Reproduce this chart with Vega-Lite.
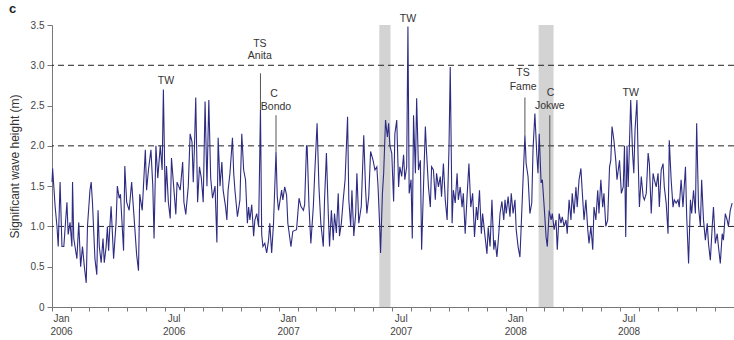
{
  "$schema": "https://vega.github.io/schema/vega-lite/v6.json",
  "width": 682,
  "height": 282,
  "autosize": {"type": "none"},
  "padding": {"left": 52, "top": 25, "right": 0, "bottom": 33},
  "background": "white",
  "config": {"view": {"stroke": null}, "font": "Liberation Sans"},
  "datasets": {
    "waves": [
      {"d":"2006-01-01","h":1.55},{"d":"2006-01-02","h":1.72},{"d":"2006-01-06","h":1.25},{"d":"2006-01-09","h":1.0},{"d":"2006-01-11","h":0.75},{"d":"2006-01-14","h":1.55},{"d":"2006-01-17","h":0.75},{"d":"2006-01-20","h":0.75},{"d":"2006-01-25","h":1.3},{"d":"2006-01-27","h":0.9},{"d":"2006-01-30","h":1.05},
      {"d":"2006-02-02","h":0.75},{"d":"2006-02-03","h":1.55},{"d":"2006-02-05","h":0.85},{"d":"2006-02-10","h":0.6},{"d":"2006-02-13","h":1.05},{"d":"2006-02-16","h":0.5},{"d":"2006-02-19","h":0.75},{"d":"2006-02-22","h":0.5},{"d":"2006-02-25","h":0.3},{"d":"2006-02-27","h":1.0},
      {"d":"2006-03-03","h":1.45},{"d":"2006-03-05","h":1.55},{"d":"2006-03-07","h":1.3},{"d":"2006-03-11","h":0.6},{"d":"2006-03-14","h":0.4},{"d":"2006-03-16","h":1.2},{"d":"2006-03-18","h":0.75},{"d":"2006-03-21","h":0.55},{"d":"2006-03-24","h":0.85},{"d":"2006-03-26","h":0.55},{"d":"2006-03-29","h":0.75},{"d":"2006-03-31","h":1.0},
      {"d":"2006-04-02","h":0.7},{"d":"2006-04-04","h":1.0},{"d":"2006-04-06","h":1.25},{"d":"2006-04-10","h":0.6},{"d":"2006-04-14","h":1.05},{"d":"2006-04-16","h":1.5},{"d":"2006-04-19","h":1.35},{"d":"2006-04-21","h":1.4},{"d":"2006-04-26","h":0.7},{"d":"2006-04-28","h":1.75},
      {"d":"2006-05-01","h":1.3},{"d":"2006-05-05","h":1.2},{"d":"2006-05-09","h":1.55},{"d":"2006-05-13","h":1.1},{"d":"2006-05-17","h":0.65},{"d":"2006-05-20","h":0.45},{"d":"2006-05-22","h":1.4},{"d":"2006-05-26","h":1.2},{"d":"2006-05-28","h":1.5},{"d":"2006-05-31","h":1.95},
      {"d":"2006-06-02","h":1.45},{"d":"2006-06-05","h":1.7},{"d":"2006-06-09","h":1.95},{"d":"2006-06-12","h":1.5},{"d":"2006-06-14","h":0.85},{"d":"2006-06-17","h":2.0},{"d":"2006-06-20","h":1.6},{"d":"2006-06-24","h":2.0},{"d":"2006-06-27","h":1.7},{"d":"2006-06-29","h":2.7},
      {"d":"2006-07-02","h":1.3},{"d":"2006-07-04","h":1.75},{"d":"2006-07-07","h":1.3},{"d":"2006-07-10","h":1.1},{"d":"2006-07-12","h":1.85},{"d":"2006-07-15","h":1.55},{"d":"2006-07-19","h":1.15},{"d":"2006-07-21","h":1.55},{"d":"2006-07-26","h":1.45},{"d":"2006-07-30","h":1.8},
      {"d":"2006-08-01","h":1.3},{"d":"2006-08-04","h":1.15},{"d":"2006-08-08","h":1.5},{"d":"2006-08-11","h":2.15},{"d":"2006-08-14","h":2.05},{"d":"2006-08-16","h":1.55},{"d":"2006-08-18","h":2.0},{"d":"2006-08-20","h":2.6},{"d":"2006-08-23","h":1.3},{"d":"2006-08-26","h":1.74},{"d":"2006-08-29","h":1.6},
      {"d":"2006-09-01","h":1.3},{"d":"2006-09-04","h":2.55},{"d":"2006-09-07","h":1.5},{"d":"2006-09-10","h":2.57},{"d":"2006-09-13","h":1.6},{"d":"2006-09-16","h":1.35},{"d":"2006-09-20","h":1.5},{"d":"2006-09-23","h":0.8},{"d":"2006-09-25","h":2.1},{"d":"2006-09-28","h":1.5},
      {"d":"2006-10-01","h":1.8},{"d":"2006-10-03","h":1.45},{"d":"2006-10-07","h":1.24},{"d":"2006-10-09","h":1.08},{"d":"2006-10-11","h":1.45},{"d":"2006-10-14","h":1.66},{"d":"2006-10-18","h":2.1},{"d":"2006-10-20","h":1.66},{"d":"2006-10-22","h":1.45},{"d":"2006-10-26","h":1.12},{"d":"2006-10-30","h":1.33},
      {"d":"2006-11-02","h":2.15},{"d":"2006-11-05","h":1.7},{"d":"2006-11-08","h":1.58},{"d":"2006-11-11","h":1.04},{"d":"2006-11-13","h":1.24},{"d":"2006-11-15","h":1.08},{"d":"2006-11-18","h":1.27},{"d":"2006-11-21","h":0.88},{"d":"2006-11-23","h":1.08},{"d":"2006-11-26","h":1.16},{"d":"2006-11-29","h":1.0},{"d":"2006-11-30","h":1.45},
      {"d":"2006-12-02","h":2.45},{"d":"2006-12-04","h":0.9},{"d":"2006-12-06","h":0.75},{"d":"2006-12-09","h":0.79},{"d":"2006-12-12","h":0.67},{"d":"2006-12-15","h":0.83},{"d":"2006-12-17","h":1.04},{"d":"2006-12-20","h":0.67},{"d":"2006-12-23","h":1.04},{"d":"2006-12-27","h":1.93},{"d":"2006-12-29","h":1.37},{"d":"2006-12-31","h":1.2},
      {"d":"2007-01-05","h":1.45},{"d":"2007-01-07","h":1.33},{"d":"2007-01-10","h":1.49},{"d":"2007-01-13","h":1.39},{"d":"2007-01-15","h":1.04},{"d":"2007-01-20","h":0.75},{"d":"2007-01-23","h":0.94},{"d":"2007-01-29","h":0.96},
      {"d":"2007-02-02","h":1.35},{"d":"2007-02-05","h":1.25},{"d":"2007-02-09","h":1.2},{"d":"2007-02-11","h":1.27},{"d":"2007-02-14","h":2.0},{"d":"2007-02-15","h":2.0},{"d":"2007-02-18","h":1.25},{"d":"2007-02-21","h":0.79},{"d":"2007-02-25","h":1.25},{"d":"2007-02-27","h":1.62},
      {"d":"2007-03-03","h":2.28},{"d":"2007-03-06","h":1.49},{"d":"2007-03-09","h":1.04},{"d":"2007-03-13","h":0.75},{"d":"2007-03-15","h":1.33},{"d":"2007-03-18","h":1.91},{"d":"2007-03-21","h":1.16},{"d":"2007-03-23","h":0.75},{"d":"2007-03-26","h":1.2},{"d":"2007-03-29","h":0.83},{"d":"2007-03-31","h":1.16},
      {"d":"2007-04-03","h":0.92},{"d":"2007-04-06","h":1.41},{"d":"2007-04-08","h":0.88},{"d":"2007-04-11","h":1.04},{"d":"2007-04-14","h":1.33},{"d":"2007-04-17","h":1.58},{"d":"2007-04-21","h":2.36},{"d":"2007-04-23","h":1.33},{"d":"2007-04-26","h":1.0},{"d":"2007-04-28","h":1.45},
      {"d":"2007-05-01","h":0.88},{"d":"2007-05-04","h":1.16},{"d":"2007-05-06","h":1.66},{"d":"2007-05-09","h":1.04},{"d":"2007-05-13","h":1.25},{"d":"2007-05-17","h":2.13},{"d":"2007-05-20","h":1.45},{"d":"2007-05-22","h":1.16},{"d":"2007-05-25","h":1.37},{"d":"2007-05-28","h":1.93},
      {"d":"2007-06-01","h":1.82},{"d":"2007-06-04","h":1.7},{"d":"2007-06-07","h":1.74},{"d":"2007-06-09","h":1.49},{"d":"2007-06-12","h":0.92},{"d":"2007-06-13","h":0.67},{"d":"2007-06-16","h":1.41},{"d":"2007-06-18","h":1.66},{"d":"2007-06-21","h":2.32},{"d":"2007-06-24","h":2.11},{"d":"2007-06-26","h":2.28},{"d":"2007-06-28","h":2.0},
      {"d":"2007-07-01","h":1.91},{"d":"2007-07-04","h":1.31},{"d":"2007-07-06","h":2.15},{"d":"2007-07-09","h":2.32},{"d":"2007-07-12","h":1.49},{"d":"2007-07-14","h":1.74},{"d":"2007-07-17","h":1.62},{"d":"2007-07-20","h":1.89},{"d":"2007-07-22","h":1.58},{"d":"2007-07-25","h":1.74},{"d":"2007-07-27","h":3.48},{"d":"2007-07-29","h":1.41},
      {"d":"2007-08-01","h":1.58},{"d":"2007-08-03","h":0.85},{"d":"2007-08-05","h":2.38},{"d":"2007-08-08","h":1.66},{"d":"2007-08-10","h":2.59},{"d":"2007-08-13","h":1.7},{"d":"2007-08-16","h":1.82},{"d":"2007-08-18","h":0.71},{"d":"2007-08-21","h":1.49},{"d":"2007-08-24","h":2.24},{"d":"2007-08-26","h":1.91},{"d":"2007-08-29","h":1.49},
      {"d":"2007-09-01","h":1.24},{"d":"2007-09-03","h":1.74},{"d":"2007-09-06","h":1.7},{"d":"2007-09-09","h":1.33},{"d":"2007-09-11","h":1.66},{"d":"2007-09-14","h":1.49},{"d":"2007-09-17","h":1.62},{"d":"2007-09-19","h":1.37},{"d":"2007-09-22","h":1.78},{"d":"2007-09-25","h":1.33},{"d":"2007-09-28","h":1.08},
      {"d":"2007-10-01","h":1.99},{"d":"2007-10-03","h":2.98},{"d":"2007-10-06","h":1.04},{"d":"2007-10-08","h":1.45},{"d":"2007-10-11","h":1.29},{"d":"2007-10-14","h":1.66},{"d":"2007-10-16","h":1.33},{"d":"2007-10-19","h":1.49},{"d":"2007-10-22","h":1.24},{"d":"2007-10-24","h":1.41},{"d":"2007-10-27","h":0.91},{"d":"2007-10-30","h":1.37},
      {"d":"2007-11-02","h":1.78},{"d":"2007-11-05","h":1.24},{"d":"2007-11-08","h":1.41},{"d":"2007-11-11","h":0.87},{"d":"2007-11-14","h":1.24},{"d":"2007-11-16","h":1.08},{"d":"2007-11-19","h":1.45},{"d":"2007-11-22","h":0.91},{"d":"2007-11-24","h":1.16},{"d":"2007-11-28","h":0.87},
      {"d":"2007-12-01","h":0.66},{"d":"2007-12-03","h":0.99},{"d":"2007-12-06","h":0.75},{"d":"2007-12-09","h":1.33},{"d":"2007-12-12","h":0.71},{"d":"2007-12-14","h":0.83},{"d":"2007-12-17","h":0.62},{"d":"2007-12-20","h":0.91},{"d":"2007-12-22","h":1.16},{"d":"2007-12-25","h":1.31},{"d":"2007-12-28","h":1.08},{"d":"2007-12-30","h":1.33},
      {"d":"2008-01-01","h":1.16},{"d":"2008-01-04","h":1.37},{"d":"2008-01-07","h":1.12},{"d":"2008-01-09","h":1.41},{"d":"2008-01-12","h":1.16},{"d":"2008-01-15","h":1.33},{"d":"2008-01-17","h":0.96},{"d":"2008-01-20","h":0.75},{"d":"2008-01-23","h":0.62},{"d":"2008-01-25","h":1.0},{"d":"2008-01-28","h":1.58},{"d":"2008-01-31","h":2.13},
      {"d":"2008-02-02","h":1.78},{"d":"2008-02-05","h":1.62},{"d":"2008-02-08","h":1.16},{"d":"2008-02-11","h":1.29},{"d":"2008-02-13","h":1.95},{"d":"2008-02-16","h":2.4},{"d":"2008-02-19","h":1.91},{"d":"2008-02-21","h":1.66},{"d":"2008-02-23","h":2.15},{"d":"2008-02-26","h":1.54},{"d":"2008-02-28","h":1.58},
      {"d":"2008-03-02","h":1.24},{"d":"2008-03-05","h":0.87},{"d":"2008-03-07","h":0.75},{"d":"2008-03-10","h":1.2},{"d":"2008-03-13","h":1.08},{"d":"2008-03-15","h":1.16},{"d":"2008-03-18","h":0.96},{"d":"2008-03-21","h":1.08},{"d":"2008-03-23","h":0.71},{"d":"2008-03-26","h":1.16},{"d":"2008-03-29","h":1.04},{"d":"2008-03-31","h":1.12},
      {"d":"2008-04-03","h":1.0},{"d":"2008-04-06","h":1.08},{"d":"2008-04-08","h":0.91},{"d":"2008-04-11","h":1.33},{"d":"2008-04-14","h":1.08},{"d":"2008-04-16","h":1.41},{"d":"2008-04-19","h":1.16},{"d":"2008-04-22","h":1.49},{"d":"2008-04-24","h":1.24},{"d":"2008-04-27","h":1.58},{"d":"2008-04-30","h":1.72},
      {"d":"2008-05-02","h":1.45},{"d":"2008-05-05","h":1.08},{"d":"2008-05-08","h":1.33},{"d":"2008-05-11","h":0.96},{"d":"2008-05-13","h":0.79},{"d":"2008-05-16","h":1.0},{"d":"2008-05-19","h":0.71},{"d":"2008-05-21","h":1.24},{"d":"2008-05-24","h":1.08},{"d":"2008-05-27","h":1.45},{"d":"2008-05-29","h":1.16},
      {"d":"2008-06-01","h":1.58},{"d":"2008-06-04","h":1.24},{"d":"2008-06-06","h":1.41},{"d":"2008-06-09","h":1.0},{"d":"2008-06-12","h":1.08},{"d":"2008-06-15","h":1.74},{"d":"2008-06-17","h":1.82},{"d":"2008-06-19","h":2.24},{"d":"2008-06-22","h":2.07},{"d":"2008-06-25","h":1.82},{"d":"2008-06-27","h":1.58},
      {"d":"2008-07-01","h":1.82},{"d":"2008-07-04","h":1.41},{"d":"2008-07-07","h":1.49},{"d":"2008-07-09","h":2.0},{"d":"2008-07-11","h":0.87},{"d":"2008-07-13","h":2.0},{"d":"2008-07-15","h":1.49},{"d":"2008-07-17","h":2.03},{"d":"2008-07-19","h":2.57},{"d":"2008-07-22","h":1.91},{"d":"2008-07-24","h":1.66},{"d":"2008-07-26","h":2.2},{"d":"2008-07-29","h":2.57},{"d":"2008-07-31","h":1.82},
      {"d":"2008-08-02","h":1.24},{"d":"2008-08-05","h":1.62},{"d":"2008-08-08","h":1.37},{"d":"2008-08-10","h":1.33},{"d":"2008-08-13","h":1.41},{"d":"2008-08-16","h":1.91},{"d":"2008-08-18","h":1.78},{"d":"2008-08-21","h":1.16},{"d":"2008-08-24","h":1.66},{"d":"2008-08-26","h":1.58},{"d":"2008-08-29","h":1.49},
      {"d":"2008-09-01","h":1.66},{"d":"2008-09-03","h":1.24},{"d":"2008-09-06","h":1.7},{"d":"2008-09-09","h":1.78},{"d":"2008-09-11","h":1.49},{"d":"2008-09-14","h":1.29},{"d":"2008-09-17","h":0.91},{"d":"2008-09-19","h":2.07},{"d":"2008-09-22","h":1.58},{"d":"2008-09-25","h":1.24},{"d":"2008-09-27","h":1.33},{"d":"2008-09-30","h":1.29},
      {"d":"2008-10-03","h":1.33},{"d":"2008-10-05","h":1.24},{"d":"2008-10-08","h":1.58},{"d":"2008-10-11","h":1.24},{"d":"2008-10-15","h":1.74},{"d":"2008-10-17","h":1.12},{"d":"2008-10-20","h":0.54},{"d":"2008-10-23","h":1.33},{"d":"2008-10-25","h":1.16},{"d":"2008-10-28","h":1.45},{"d":"2008-10-31","h":1.16},
      {"d":"2008-11-02","h":2.28},{"d":"2008-11-05","h":1.24},{"d":"2008-11-08","h":1.0},{"d":"2008-11-10","h":1.58},{"d":"2008-11-13","h":1.08},{"d":"2008-11-16","h":0.83},{"d":"2008-11-19","h":1.04},{"d":"2008-11-21","h":0.79},{"d":"2008-11-24","h":0.58},{"d":"2008-11-27","h":1.0},{"d":"2008-11-29","h":1.24},
      {"d":"2008-12-02","h":0.79},{"d":"2008-12-05","h":0.91},{"d":"2008-12-07","h":0.75},{"d":"2008-12-10","h":0.54},{"d":"2008-12-13","h":0.91},{"d":"2008-12-15","h":0.83},{"d":"2008-12-18","h":1.16},{"d":"2008-12-21","h":1.08},{"d":"2008-12-23","h":1.0},{"d":"2008-12-26","h":1.2},{"d":"2008-12-29","h":1.29}
    ],
    "bands": [
      {"s": "2007-06-11", "e": "2007-06-29"},
      {"s": "2008-02-22", "e": "2008-03-17"}
    ],
    "refs": [{"v": 1.0}, {"v": 2.0}, {"v": 3.0}],
    "leaders": [
      {"d": "2006-12-02", "a": 2.9, "b": 2.45},
      {"d": "2006-12-27", "a": 2.38, "b": 1.93},
      {"d": "2008-01-31", "a": 2.6, "b": 2.13},
      {"d": "2008-03-11", "a": 2.38, "b": 1.2}
    ],
    "labels": [
      {"d": "2006-07-03", "v": 2.8, "t": "TW"},
      {"d": "2006-12-01", "v": 3.27, "t": "TS"},
      {"d": "2006-12-01", "v": 3.11, "t": "Anita"},
      {"d": "2006-12-24", "v": 2.64, "t": "C"},
      {"d": "2006-12-27", "v": 2.48, "t": "Bondo"},
      {"d": "2007-07-27", "v": 3.57, "t": "TW"},
      {"d": "2008-01-28", "v": 2.91, "t": "TS"},
      {"d": "2008-01-28", "v": 2.73, "t": "Fame"},
      {"d": "2008-03-12", "v": 2.66, "t": "C"},
      {"d": "2008-03-11", "v": 2.49, "t": "Jokwe"},
      {"d": "2008-07-19", "v": 2.66, "t": "TW"}
    ],
    "panel": [{"d": "2005-10-24", "v": 3.65, "t": "c"}]
  },
  "layer": [
    {
      "data": {"name": "bands"},
      "mark": {"type": "rect", "color": "#d3d3d3"},
      "encoding": {
        "x": {"field": "s", "type": "temporal", "scale": {"type": "utc", "domain": [{"year": 2006, "month": 1, "date": 1, "utc": true}, {"year": 2009, "month": 1, "date": 1, "utc": true}]},
          "axis": {
            "title": null,
            "tickCount": {"interval": "month", "step": 1},
            "labelExpr": "utcFormat(datum.value, '%Y') != '2009' && (utcFormat(datum.value, '%m') == '01' || utcFormat(datum.value, '%m') == '07') ? [utcFormat(datum.value, '%b'), utcFormat(datum.value, '%Y')] : ''",
            "labelOverlap": false,
            "labelFlush": false,
            "labelOffset": 9,
            "labelFontSize": 10,
            "labelColor": "#444",
            "labelPadding": 2,
            "labelLineHeight": 13,
            "tickSize": 4,
            "tickColor": "#777",
            "domainColor": "#777",
            "grid": false
          }
        },
        "x2": {"field": "e"},
        "y": {"datum": 3.5, "type": "quantitative", "scale": {"domain": [0, 3.5], "nice": false},
          "axis": {
            "title": "Significant wave height (m)",
            "titleFontSize": 12,
            "titleFontWeight": "normal",
            "titleColor": "#333",
            "titlePadding": 9,
            "values": [0, 0.5, 1, 1.5, 2, 2.5, 3, 3.5],
            "labelExpr": "datum.value == 0 ? '0' : format(datum.value, '.1f')",
            "labelFontSize": 10,
            "labelColor": "#444",
            "labelPadding": 3,
            "tickSize": 5,
            "tickColor": "#777",
            "domainColor": "#777",
            "grid": false
          }
        },
        "y2": {"datum": 0}
      }
    },
    {
      "data": {"name": "refs"},
      "mark": {"type": "rule", "color": "#222", "strokeDash": [6, 4], "strokeWidth": 1},
      "encoding": {"y": {"field": "v", "type": "quantitative"}}
    },
    {
      "data": {"name": "waves"},
      "mark": {"type": "line", "color": "#2e2c82", "strokeWidth": 1.1},
      "encoding": {
        "x": {"field": "d", "type": "temporal"},
        "y": {"field": "h", "type": "quantitative"}
      }
    },
    {
      "data": {"name": "leaders"},
      "mark": {"type": "rule", "color": "#555", "strokeWidth": 1},
      "encoding": {
        "x": {"field": "d", "type": "temporal"},
        "y": {"field": "a", "type": "quantitative"},
        "y2": {"field": "b"}
      }
    },
    {
      "data": {"name": "labels"},
      "mark": {"type": "text", "fontSize": 10.5, "color": "#333", "align": "center", "baseline": "middle"},
      "encoding": {
        "x": {"field": "d", "type": "temporal"},
        "y": {"field": "v", "type": "quantitative"},
        "text": {"field": "t"}
      }
    },
    {
      "data": {"name": "panel"},
      "mark": {"type": "text", "fontSize": 13, "fontWeight": "bold", "color": "#222", "align": "left", "baseline": "alphabetic"},
      "encoding": {
        "x": {"field": "d", "type": "temporal"},
        "y": {"field": "v", "type": "quantitative"},
        "text": {"field": "t"}
      }
    }
  ]
}
